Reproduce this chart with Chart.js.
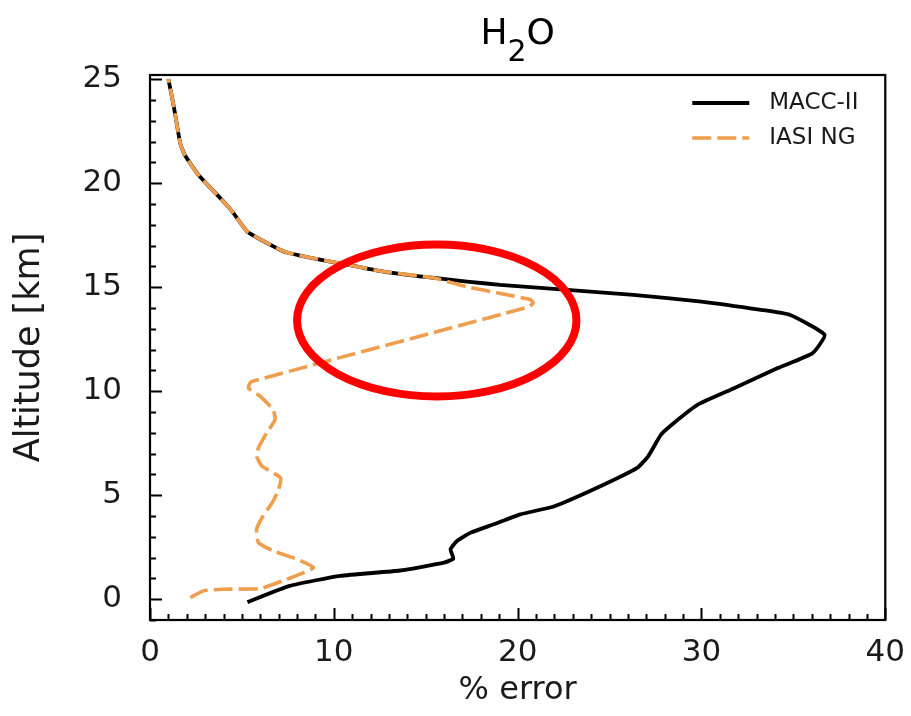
<!DOCTYPE html>
<html>
<head>
<meta charset="utf-8">
<script src="https://cdn.jsdelivr.net/npm/chart.js@4.4.0/dist/chart.umd.min.js"></script>
<style>
  html, body { margin: 0; padding: 0; background: #fff; }
  canvas { display: block; }
</style>
</head>
<body>
<canvas id="grafico" width="911" height="716"></canvas>
<script>
// profili di errore H2O (errore %, quota km)
const maccErrore = [5.3, 7.6, 10.35, 13.6, 16.0, 16.5, 16.35, 16.7, 17.45, 18.7, 20.15, 22.0, 24.5, 26.5, 27.1, 27.8, 28.5, 29.8, 31.8, 34.15, 36.05, 36.7, 34.8, 33.25, 30.0, 26.3, 22.7, 19.05, 17.25, 15.1, 12.7, 11.1, 9.1, 7.6, 7.1, 5.3, 4.55, 4.1, 2.65, 1.9, 1.65, 1.3, 1.0];
const maccQuota = [-0.14, 0.64, 1.12, 1.38, 1.76, 1.95, 2.4, 2.8, 3.2, 3.6, 4.08, 4.47, 5.43, 6.31, 6.87, 7.91, 8.47, 9.35, 10.15, 11.11, 11.83, 12.71, 13.67, 13.91, 14.31, 14.63, 14.87, 15.11, 15.27, 15.48, 15.75, 16.02, 16.35, 16.63, 16.79, 17.67, 18.55, 19.02, 20.38, 21.34, 21.9, 23.66, 25.0];
const iasiErrore = [2.2, 2.9, 4.0, 6.0, 7.45, 8.35, 8.9, 8.0, 6.7, 5.9, 5.8, 6.15, 6.65, 7.0, 7.1, 6.1, 5.8, 5.9, 6.35, 6.8, 6.7, 6.0, 5.35, 5.5, 20.6, 20.85, 20.7, 19.05, 17.2, 15.4, 12.7, 11.1, 9.1, 7.6, 7.1, 5.3, 4.55, 4.1, 2.65, 1.9, 1.65, 1.3, 1.0];
const iasiQuota = [0.08, 0.4, 0.48, 0.51, 0.96, 1.28, 1.52, 1.92, 2.32, 2.72, 3.36, 4.0, 4.64, 5.28, 5.84, 6.39, 6.87, 7.28, 7.99, 8.63, 9.11, 9.75, 10.15, 10.45, 14.05, 14.25, 14.4, 14.7, 15.03, 15.45, 15.75, 16.02, 16.35, 16.63, 16.79, 17.67, 18.55, 19.02, 20.38, 21.34, 21.9, 23.66, 25.0];

const tickX = [0, 10, 20, 30, 40];
const tickY = [0, 5, 10, 15, 20, 25];
const nomi = ["MACC-II", "IASI NG"];

// ellisse rossa di evidenziazione, in unita' dei dati
const ellisseCentro = [15.6, 13.4];
const ellisseRaggi = [7.6, 3.65];

const FONT = "'DejaVu Sans', sans-serif";
const ARANCIO = "#EF9E4E";

const punti = (xs, ys) => xs.map((v, i) => ({ x: v, y: ys[i] }));

const decorazioni = {
  id: "decorazioni",
  afterDatasetsDraw(chart) {
    const { ctx, chartArea: a, scales: { x, y } } = chart;
    ctx.save();

    // ellisse
    const cx = x.getPixelForValue(ellisseCentro[0]);
    const cy = y.getPixelForValue(ellisseCentro[1]);
    const rx = x.getPixelForValue(ellisseCentro[0] + ellisseRaggi[0]) - cx;
    const ry = cy - y.getPixelForValue(ellisseCentro[1] + ellisseRaggi[1]);
    ctx.beginPath();
    ctx.ellipse(cx, cy, rx, ry, 0, 0, 2 * Math.PI);
    ctx.strokeStyle = "#ff0000";
    ctx.lineWidth = 8;
    ctx.stroke();

    // cornice
    ctx.strokeStyle = "#000";
    ctx.lineWidth = 2.2;
    ctx.strokeRect(a.left, a.top, a.right - a.left, a.bottom - a.top);

    // tacche verso l'interno
    ctx.lineWidth = 2;
    ctx.beginPath();
    for (let v = Math.ceil(x.min); v <= x.max; v++) {
      const px = Math.round(x.getPixelForValue(v)) + 0.5;
      const len = tickX.includes(v) ? 12 : 6;
      ctx.moveTo(px, a.bottom);
      ctx.lineTo(px, a.bottom - len);
    }
    for (let v = Math.ceil(y.min); v <= y.max; v++) {
      const py = Math.round(y.getPixelForValue(v)) + 0.5;
      const len = tickY.includes(v) ? 12 : 6;
      ctx.moveTo(a.left, py);
      ctx.lineTo(a.left + len, py);
    }
    ctx.stroke();

    // legenda
    const ds = chart.data.datasets;
    ctx.font = "23px " + FONT;
    ctx.textBaseline = "middle";
    ctx.fillStyle = "#1a1a1a";
    ds.forEach((d, i) => {
      const ly = a.top + 28 + i * 35;
      ctx.beginPath();
      ctx.setLineDash(d.borderDash || []);
      ctx.strokeStyle = d.borderColor;
      ctx.lineWidth = d.borderWidth;
      ctx.moveTo(a.right - 193, ly);
      ctx.lineTo(a.right - 136, ly);
      ctx.stroke();
      ctx.setLineDash([]);
      ctx.fillText(d.label, a.right - 116, ly);
    });

    // titolo H2O con pedice
    const tx = (a.left + a.right) / 2;
    ctx.fillStyle = "#000";
    ctx.textBaseline = "alphabetic";
    ctx.font = "36px " + FONT;
    const wH = ctx.measureText("H").width, wO = ctx.measureText("O").width;
    ctx.font = "30px " + FONT;
    const w2 = ctx.measureText("2").width;
    const sx = tx - (wH + w2 + wO) / 2;
    ctx.font = "36px " + FONT;
    ctx.fillText("H", sx, 44);
    ctx.font = "30px " + FONT;
    ctx.fillText("2", sx + wH, 61);
    ctx.font = "36px " + FONT;
    ctx.fillText("O", sx + wH + w2, 44);

    ctx.restore();
  }
};

new Chart(document.getElementById("grafico"), {
  type: "line",
  data: {
    datasets: [
      {
        label: nomi[0],
        data: punti(maccErrore, maccQuota),
        borderColor: "#000",
        borderWidth: 3.8,
        pointRadius: 0,
        tension: 0.15,
        order: 1
      },
      {
        label: nomi[1],
        data: punti(iasiErrore, iasiQuota),
        borderColor: ARANCIO,
        borderWidth: 3.6,
        borderDash: [19, 6],
        pointRadius: 0,
        tension: 0.15,
        order: 0
      }
    ]
  },
  options: {
    responsive: false,
    animation: false,
    layout: { padding: { top: 75, right: 25, left: 0, bottom: 0 } },
    plugins: {
      legend: { display: false },
      title: { display: false },
      tooltip: { enabled: false }
    },
    scales: {
      x: {
        type: "linear",
        min: 0,
        max: 40,
        afterBuildTicks: s => { s.ticks = tickX.map(v => ({ value: v })); },
        afterFit: s => { s.height = 96; },
        grid: { display: false },
        border: { display: false },
        ticks: { color: "#1a1a1a", font: { family: FONT, size: 31 }, padding: 6 },
        title: { display: true, text: "% error", color: "#1a1a1a", font: { family: FONT, size: 32 }, padding: { top: 0, bottom: 6 } }
      },
      y: {
        type: "linear",
        min: -1,
        max: 25.2,
        afterBuildTicks: s => { s.ticks = tickY.map(v => ({ value: v })); },
        afterFit: s => { s.width = 150; },
        grid: { display: false },
        border: { display: false },
        ticks: { color: "#1a1a1a", font: { family: FONT, size: 31 }, padding: 20 },
        title: { display: true, text: "Altitude [km]", color: "#1a1a1a", font: { family: FONT, size: 35 }, padding: { top: 9, bottom: 0 } }
      }
    }
  },
  plugins: [decorazioni]
});
</script>
</body>
</html>
